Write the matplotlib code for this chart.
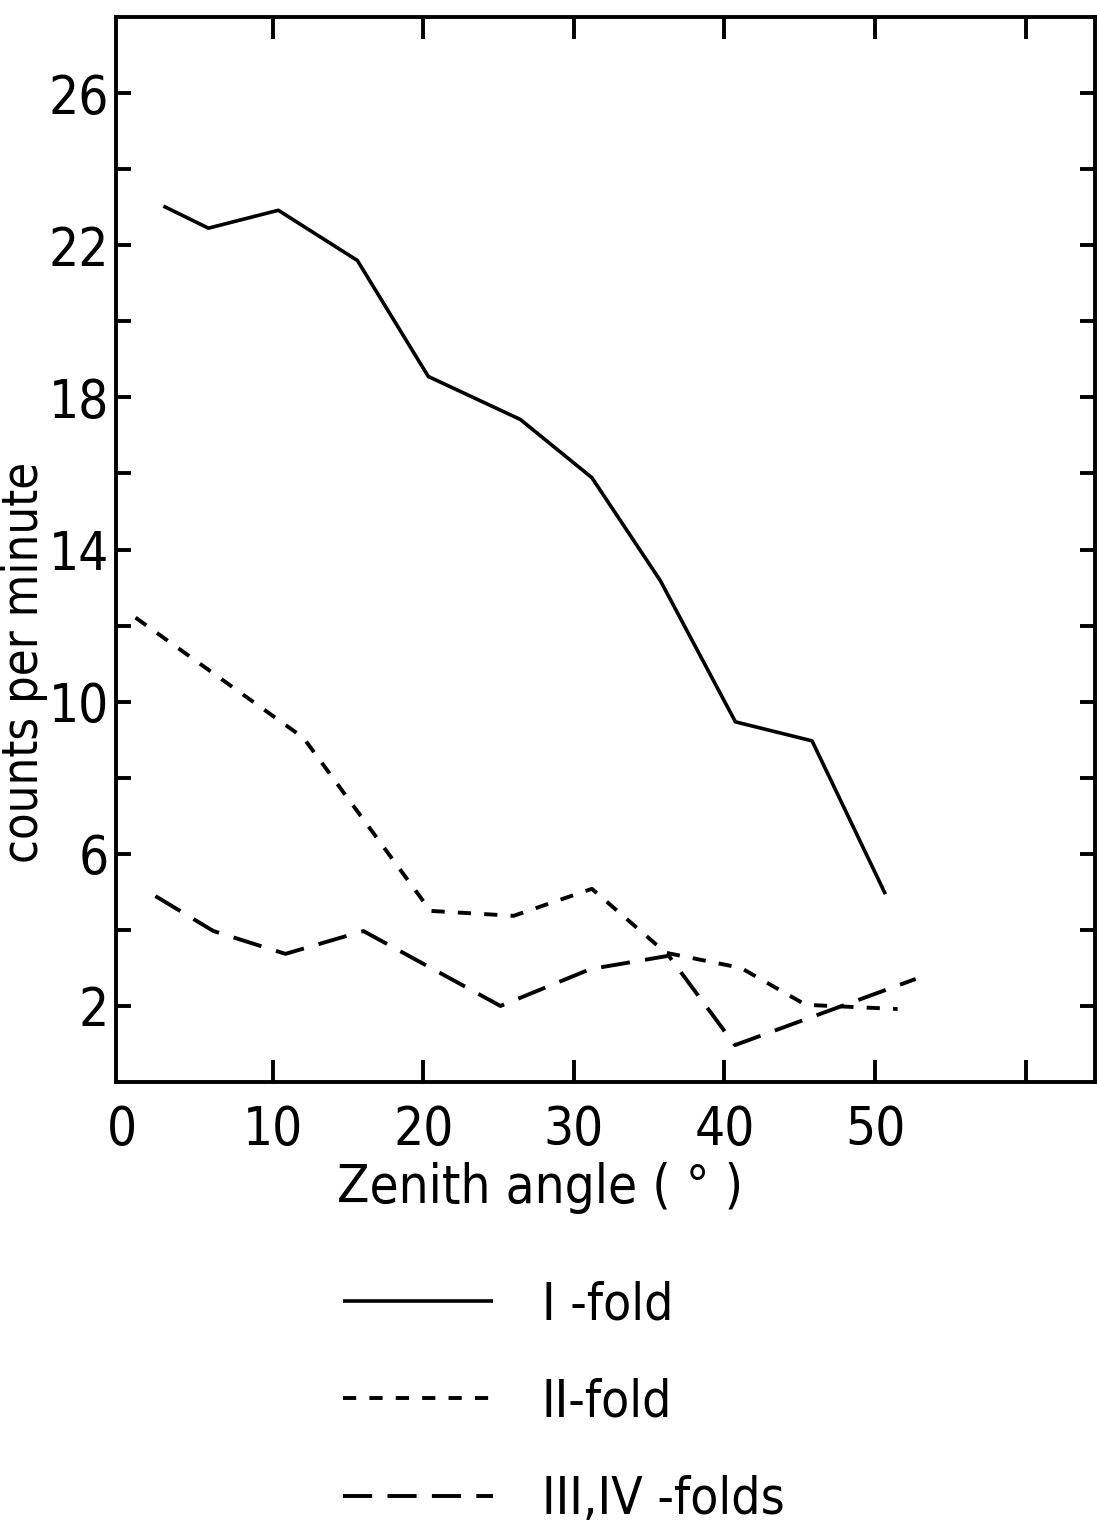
import matplotlib
matplotlib.use('Agg')
import matplotlib.pyplot as plt

plt.rcParams['font.family'] = ['DejaVu Sans']
plt.rcParams['font.stretch'] = 'condensed'
plt.rcParams['lines.scale_dashes'] = False

# zenith angle (deg) vs counts per minute
angle_1 = [2.75, 5.74, 10.38, 15.63, 20.34, 26.45, 31.2, 35.75, 40.73, 45.82, 50.69]
rate_1 = [23.03, 22.45, 22.92, 21.6, 18.55, 17.42, 15.89, 13.18, 9.47, 8.97, 4.94]

angle_2 = [0.9, 12.05, 20.48, 26.0, 31.2, 36.1, 41.1, 45.4, 51.5]
rate_2 = [12.21, 9.05, 4.5, 4.37, 5.08, 3.4, 3.0, 2.03, 1.92]

angle_34 = [2.22, 6.07, 10.85, 16.03, 25.13, 31.1, 36.3, 40.7, 52.7]
rate_34 = [4.89, 3.97, 3.37, 3.97, 2.0, 2.97, 3.32, 0.97, 2.71]

labels = ['I -fold', 'II-fold', 'III,IV -folds']
xtick_vals = [10, 20, 30, 40, 50, 60]
xtick_text = ['10', '20', '30', '40', '50', '']

fig = plt.figure(figsize=(10.97, 15.24), dpi=100)
ax = fig.add_axes([0.1057, 0.2900, 0.8924, 0.6988])

ax.plot(angle_1, rate_1, color='black', lw=2.6, solid_capstyle='butt', label=labels[0])
ax.plot(angle_2, rate_2, color='black', lw=2.8, dashes=(9.5, 9.5), label=labels[1])
ax.plot(angle_34, rate_34, color='black', lw=2.8, dashes=(21, 11), label=labels[2])

ax.set_xlim(-0.4, 64.6)
ax.set_ylim(0, 28)

ax.set_xticks(xtick_vals)
ax.set_xticklabels(xtick_text)
# the 0 label sits on the spine, without a tick mark
ax.set_xticks([0], minor=True)
ax.set_xticklabels(['0'], minor=True)
ax.set_yticks(range(2, 28, 4))
ax.set_yticks(range(4, 28, 4), minor=True)

ax.tick_params(axis='both', which='both', direction='in', top=True, right=True,
               width=2.8, labelsize=38)
ax.tick_params(axis='x', which='major', length=16, pad=16)
ax.tick_params(axis='x', which='minor', length=0, pad=16)
ax.tick_params(axis='y', which='both', length=11, pad=5)
for s in ax.spines.values():
    s.set_linewidth(2.8)

ax.set_xlabel('Zenith angle ( ° )', fontsize=38)
ax.xaxis.set_label_coords(0.433, -0.075)
ax.set_ylabel('counts per minute', fontsize=35)
ax.yaxis.set_label_coords(-0.0695, 0.394)

fig.legend(loc='upper left', bbox_to_anchor=(343 / 1097, 1 - 1280 / 1524),
           frameon=False, fontsize=37, handlelength=2.92, handletextpad=0.95,
           labelspacing=0.92, borderpad=0, borderaxespad=0)

fig.savefig('out.png', dpi=100)
